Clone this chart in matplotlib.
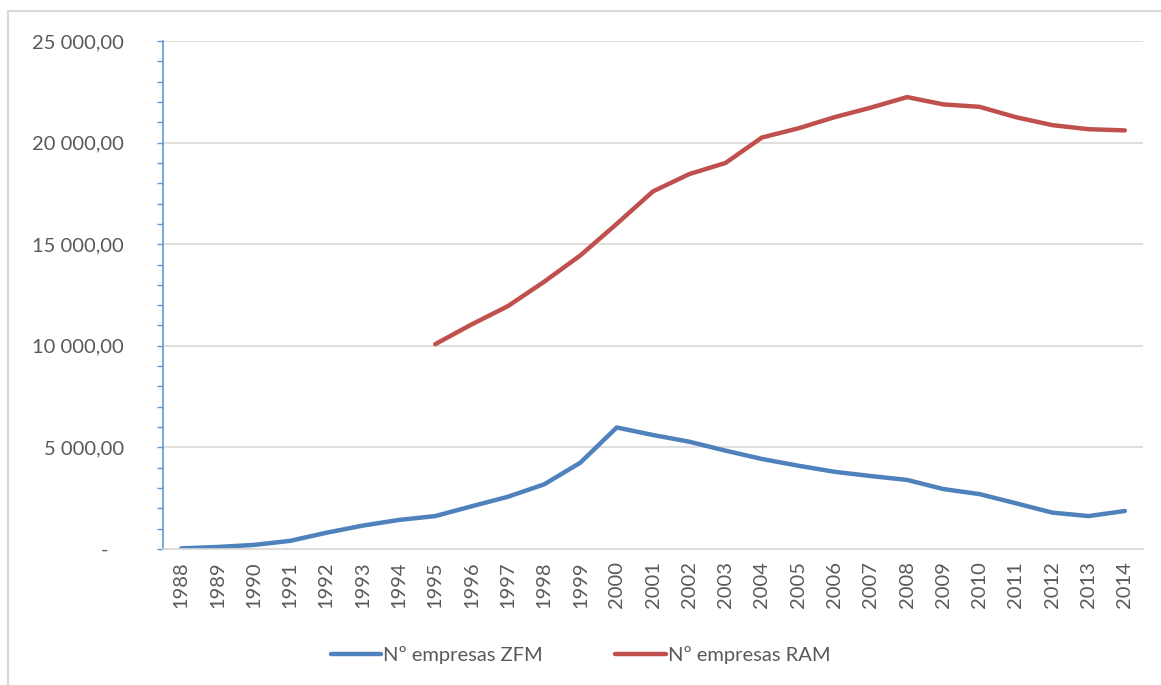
import matplotlib.pyplot as plt
from matplotlib.ticker import MultipleLocator, FuncFormatter
from matplotlib.patches import Rectangle

# data
years = list(range(1988, 2015))
zfm = [30, 100, 200, 400, 800, 1150, 1430, 1620, 2100, 2570, 3180, 4250, 5980,
       5610, 5280, 4840, 4430, 4100, 3800, 3590, 3400, 2950, 2700, 2250, 1790, 1620, 1870]
ram_years = list(range(1995, 2015))
ram = [10080, 11050, 11950, 13150, 14450, 16000, 17600, 18450, 19000, 20250,
       20700, 21250, 21720, 22240, 21880, 21760, 21250, 20860, 20660, 20600]

plt.rcParams['font.family'] = ['Lato', 'DejaVu Sans']
txt = '#595959'
grid = '#D9D9D9'

fig = plt.figure(figsize=(11.61, 6.85), dpi=100)
ax = fig.add_axes([163 / 1161, 1 - 549 / 685, 980 / 1161, 508 / 685])

ax.plot(years, zfm, color='#4F81BD', lw=3.2, solid_joinstyle='round',
        solid_capstyle='round', label='Nº empresas ZFM')
ax.plot(ram_years, ram, color='#C0504D', lw=3.2, solid_joinstyle='round',
        solid_capstyle='round', label='Nº empresas RAM')

ax.set_xlim(1987.5, 2014.5)
ax.set_ylim(0, 25000)
ax.set_xticks(years)
ax.set_xticklabels([str(y) for y in years], rotation=90)
ax.yaxis.set_major_locator(MultipleLocator(5000))
ax.yaxis.set_minor_locator(MultipleLocator(1000))


def fmt(v, pos):
    if v == 0:
        return '-   '
    s = f'{v:,.2f}'.replace(',', ' ').replace('.', ',')
    return s


ax.yaxis.set_major_formatter(FuncFormatter(fmt))
ax.grid(axis='y', color=grid, lw=1.2)
ax.set_axisbelow(True)

for side in ['top', 'right']:
    ax.spines[side].set_visible(False)
ax.spines['left'].set_color('#5B9BD5')
ax.spines['left'].set_linewidth(1.2)
ax.spines['bottom'].set_color(grid)
ax.spines['bottom'].set_linewidth(1.2)

ax.tick_params(axis='y', which='both', direction='out', length=4, width=1,
               color='#5B9BD5', labelsize=14.5, labelcolor=txt, pad=24)
ax.tick_params(axis='x', length=0, labelsize=14.5, labelcolor=txt, pad=9)

ax.legend(loc='center', bbox_to_anchor=(0.5, 1 - 655 / 685),
          bbox_transform=fig.transFigure, ncol=2, frameon=False,
          fontsize=14.5, labelcolor=txt, handlelength=2.5, handletextpad=0.1,
          columnspacing=3.6)

# outer chart border
fig.patches.append(Rectangle((8 / 1161, -0.05), 1.1, 1 - 11 / 685 + 0.05,
                             transform=fig.transFigure, fill=False,
                             edgecolor=grid, lw=1.5))

fig.savefig('out.png', dpi=100, facecolor='white')
